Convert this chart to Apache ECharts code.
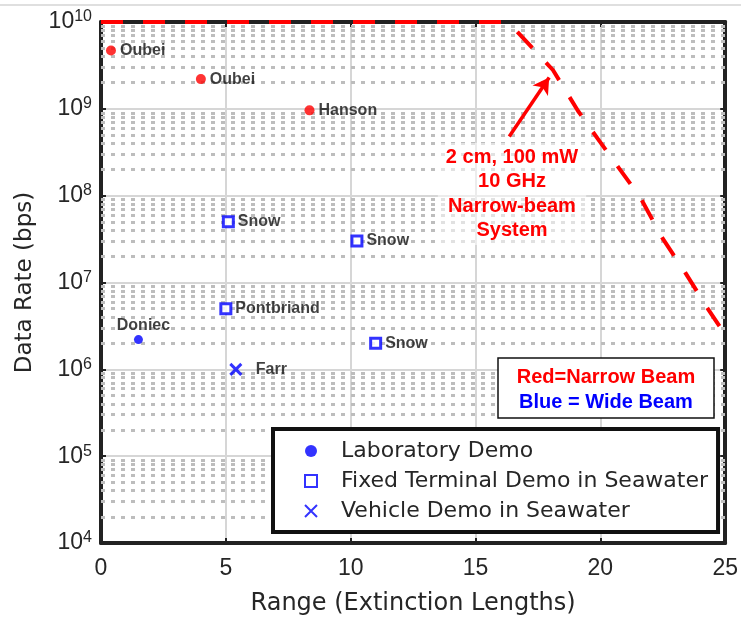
<!DOCTYPE html>
<html><head><meta charset="utf-8">
<script src="https://cdn.jsdelivr.net/npm/echarts@6/dist/echarts.min.js"></script>
<style>html,body{margin:0;padding:0;background:#fff}#c{width:741px;height:621px}</style>
</head><body><div id="c"></div>
<script>
const xTicks = [0, 5, 10, 15, 20, 25];
const yDecades = [4, 5, 6, 7, 8, 9, 10];
const minorMultipliers = [2, 3, 4, 5, 6, 7, 8, 9];

const narrowNames = ['Oubei', 'Oubei', 'Hanson'];
const narrowRange = [0.4, 4.0, 8.35];
const narrowRate = [4.7e9, 2.2e9, 9.6e8];

const labNames = ['Doniec'];
const labRange = [1.5];
const labRate = [2.2e6];

const fixedNames = ['Snow', 'Snow', 'Pontbriand', 'Snow'];
const fixedRange = [5.1, 10.25, 5.0, 11.0];
const fixedRate = [5e7, 3e7, 5e6, 2e6];

const vehicleNames = ['Farr'];
const vehicleRange = [5.4];
const vehicleRate = [1e6];

const curveRange = [0, 16.2, 16.5, 18.1, 19.1, 19.9, 21.6, 22.5, 23.4, 24.3, 25];
const curveRate = [1e10, 1e10, 8.7e9, 2.8e9, 9.5e8, 4.5e8, 9.5e7, 3.2e7, 1.3e7, 5e6, 2.5e6];

const arrowFrom = [16.35, 4.8e8];
const arrowTo = [17.95, 2.3e9];

const legendNames = ['Laboratory Demo', 'Fixed Terminal Demo in Seawater', 'Vehicle Demo in Seawater'];

const RED = '#ff0000', BLUE = '#0000ff', AX = '#222222';
const SANS = '"Liberation Sans", Arial, sans-serif';
const WIDE = '"DejaVu Sans", sans-serif';

function pts(names, xs, ys) { return names.map((n, i) => ({ name: n, value: [xs[i], ys[i]] })); }

const minorVals = [];
yDecades.slice(0, -1).forEach(e => minorMultipliers.forEach(m => minorVals.push(m * Math.pow(10, e))));

const ptLabel = (pos, dist, extra) => Object.assign({
  show: true, position: pos, distance: dist, formatter: '{b}',
  color: '#111', fontWeight: 'bold', fontSize: 16, fontFamily: SANS
}, extra || {});

const chart = echarts.init(document.getElementById('c'), null, { renderer: 'canvas' });
chart.setOption({
  animation: false,
  backgroundColor: '#fff',
  grid: { left: 101, right: 11, top: 22, bottom: 75, containLabel: false },
  xAxis: [{
    type: 'value', min: xTicks[0], max: xTicks[xTicks.length - 1], interval: 5,
    name: 'Range (Extinction Lengths)', nameLocation: 'middle', nameGap: 49,
    nameTextStyle: { fontSize: 24, color: '#262626', fontFamily: WIDE },
    axisLine: { show: true, lineStyle: { color: AX, width: 4 } },
    axisTick: { show: true, inside: true, length: 5, lineStyle: { color: AX, width: 2 } },
    axisLabel: { fontSize: 23, color: '#262626', fontFamily: SANS, margin: 14 },
    splitLine: { show: true, lineStyle: { color: '#d6d6d6', width: 2 } }
  }, {
    type: 'value', position: 'top', min: xTicks[0], max: xTicks[xTicks.length - 1], interval: 5,
    axisLine: { show: true, onZero: false, lineStyle: { color: AX, width: 4 } },
    axisTick: { show: true, inside: true, length: 5, lineStyle: { color: AX, width: 2 } },
    axisLabel: { show: false }, splitLine: { show: false }
  }],
  yAxis: [{
    type: 'log', logBase: 10, min: Math.pow(10, yDecades[0]), max: Math.pow(10, yDecades[yDecades.length - 1]),
    splitNumber: 6,
    name: 'Data Rate (bps)', nameLocation: 'middle', nameGap: 64, nameRotate: 90,
    nameTextStyle: { fontSize: 23, color: '#262626', fontFamily: WIDE },
    axisLine: { show: true, lineStyle: { color: AX, width: 4 } },
    axisTick: { show: true, inside: true, length: 5, lineStyle: { color: AX, width: 2 } },
    axisLabel: {
      margin: 9, fontFamily: SANS, color: '#262626',
      formatter: v => '{b|10}{s|' + Math.round(Math.log10(v)) + '}',
      rich: {
        b: { fontSize: 23, fontFamily: SANS, color: '#262626', lineHeight: 26 },
        s: { fontSize: 16, fontFamily: SANS, color: '#262626', verticalAlign: 'top', lineHeight: 14 }
      }
    },
    splitLine: { show: true, lineStyle: { color: '#d6d6d6', width: 2 } }
  }, {
    type: 'log', logBase: 10, position: 'right', min: Math.pow(10, yDecades[0]), max: Math.pow(10, yDecades[yDecades.length - 1]),
    splitNumber: 6,
    axisLine: { show: true, onZero: false, lineStyle: { color: AX, width: 4 } },
    axisTick: { show: true, inside: true, length: 5, lineStyle: { color: AX, width: 2 } },
    axisLabel: { show: false }, splitLine: { show: false }
  }],
  legend: {
    data: legendNames, orient: 'vertical', left: 273, top: 429,
    backgroundColor: '#fff', borderColor: '#111', borderWidth: 4,
    padding: [11, 10, 10, 31], itemGap: 8, itemWidth: 12, itemHeight: 12,
    textStyle: { fontSize: 22, color: '#262626', fontFamily: WIDE, padding: [0, 0, 0, 19] },
    z: 20
  },
  graphic: [
    { type: 'line', shape: { x1: 0, y1: 5, x2: 741, y2: 5 }, style: { stroke: '#d4d4d4', lineWidth: 1.5 }, silent: true },
    { type: 'text', x: 512, y: 143, z: 30,
      style: { text: '2 cm, 100 mW\n10 GHz\nNarrow-beam\nSystem', fill: RED, font: 'bold 20px ' + SANS,
        align: 'center', lineHeight: 24.5, backgroundColor: 'rgba(255,255,255,0.55)', padding: [2, 8, 2, 8] } },
    { type: 'rect', shape: { x: 498, y: 358, width: 216, height: 60 }, z: 30,
      style: { fill: '#fff', stroke: '#111', lineWidth: 1.5 } },
    { type: 'text', x: 606, y: 377, z: 31,
      style: { text: 'Red=Narrow Beam', fill: RED, font: 'bold 20px ' + SANS, align: 'center', verticalAlign: 'middle' } },
    { type: 'text', x: 606, y: 402, z: 31,
      style: { text: 'Blue = Wide Beam', fill: BLUE, font: 'bold 20px ' + SANS, align: 'center', verticalAlign: 'middle' } }
  ],
  series: [
    {
      name: 'minor', type: 'line', data: [], z: 1, silent: true,
      markLine: {
        silent: true, symbol: ['none', 'none'], label: { show: false },
        lineStyle: { color: '#bdbdbd', width: 3, type: [4, 6] },
        data: minorVals.map(v => ({ yAxis: v }))
      }
    },
    {
      name: 'curve', type: 'line', data: curveRange.map((x, i) => [x, curveRate[i]]),
      showSymbol: false, clip: false, z: 6, smooth: false,
      lineStyle: { color: RED, width: 4, type: [22, 20] }
    },
    {
      name: 'arrow', type: 'line', data: [], z: 7,
      markLine: {
        silent: true, symbol: ['none', 'arrow'], symbolSize: [14, 16], label: { show: false },
        lineStyle: { color: RED, width: 3.5, type: 'solid' },
        data: [[{ coord: arrowFrom }, { coord: arrowTo }]]
      }
    },
    {
      name: 'narrow', type: 'scatter', z: 8, symbol: 'circle', symbolSize: 10,
      itemStyle: { color: RED },
      label: ptLabel('right', 4),
      data: pts(narrowNames, narrowRange, narrowRate)
    },
    {
      name: legendNames[0], type: 'scatter', z: 8, symbol: 'circle', symbolSize: 9, symbolKeepAspect: true,
      itemStyle: { color: BLUE },
      label: ptLabel('top', 2, { offset: [5, 0] }),
      data: pts(labNames, labRange, labRate)
    },
    {
      name: legendNames[1], type: 'scatter', z: 8, symbol: 'rect', symbolSize: 10, symbolKeepAspect: true,
      itemStyle: { color: '#fff', borderColor: BLUE, borderWidth: 3 },
      label: ptLabel('right', 3),
      data: pts(fixedNames, fixedRange, fixedRate)
    },
    {
      name: legendNames[2], type: 'scatter', z: 8, symbol: 'path://M0,0L10,10M10,0L0,10', symbolSize: 11, symbolKeepAspect: true,
      itemStyle: { color: BLUE, borderColor: BLUE, borderWidth: 3 },
      label: ptLabel('right', 13),
      data: pts(vehicleNames, vehicleRange, vehicleRate)
    }
  ]
});
</script></body></html>
